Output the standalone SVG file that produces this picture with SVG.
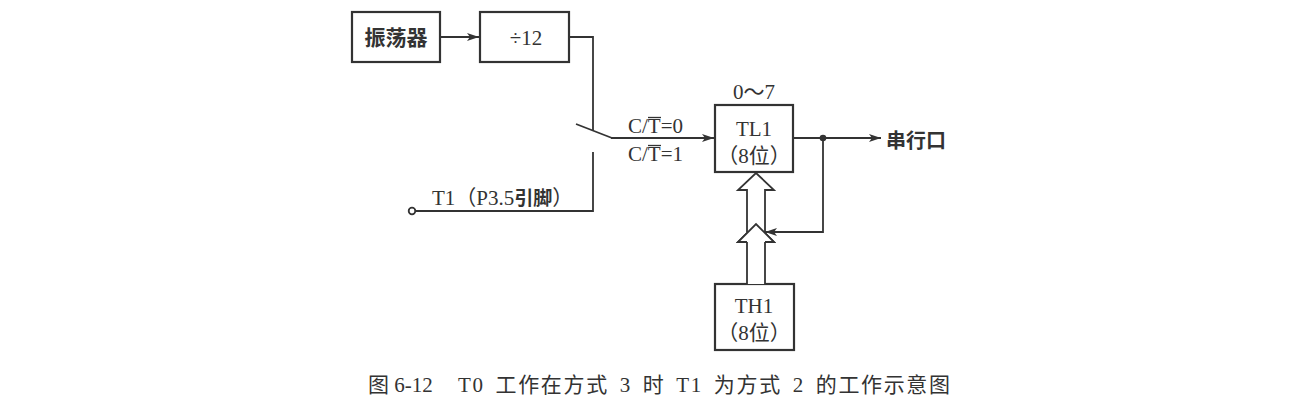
<svg xmlns="http://www.w3.org/2000/svg" width="1291" height="407" viewBox="0 0 1291 407">
<style>
.box{fill:#fff;stroke:#333;stroke-width:2.2}
.ln{fill:none;stroke:#333;stroke-width:1.8}
.ov{stroke:#333;stroke-width:1.3}
.t{font-family:"Liberation Serif","Noto Sans CJK SC",serif;fill:#333;font-size:21px}
.cjk{font-family:"Noto Sans CJK SC",sans-serif;fill:#333}
.hol{fill:#fff;stroke:#333;stroke-width:1.8;stroke-linejoin:miter}
</style>
<defs>
<marker id="ah" viewBox="0 0 12 8" refX="12" refY="4" markerWidth="12" markerHeight="8" markerUnits="userSpaceOnUse" orient="auto">
<path d="M0,0 L12,4 L0,8 L3,4 Z" fill="#333"/>
</marker>
</defs>
<rect width="1291" height="407" fill="#fff"/>
<g id="osc">
<rect class="box" x="352" y="12" width="88" height="50"/>
<text class="cjk" x="396" y="45" font-size="21" font-weight="bold" text-anchor="middle">振荡器</text>
</g>
<g id="div12">
<rect class="box" x="480" y="12" width="89" height="50"/>
<text class="t" x="526" y="45" font-size="22" text-anchor="middle">÷12</text>
</g>
<g id="tl1">
<rect class="box" x="715" y="105" width="78" height="67"/>
<text class="t" x="754" y="99" text-anchor="middle">0～7</text>
<text class="t" x="754" y="136" text-anchor="middle">TL1</text>
<text class="t" x="754" y="163" text-anchor="middle">（8位）</text>
</g>
<g id="th1">
<rect class="box" x="715" y="284" width="79" height="66"/>
<text class="t" x="754" y="313" text-anchor="middle">TH1</text>
<text class="t" x="754" y="340" text-anchor="middle">（8位）</text>
</g>
<g id="labels">
<text class="t" x="432" y="205">T1（P3.5<tspan class="cjk" font-weight="bold" font-size="19">引脚</tspan>）</text>
<text class="t" x="628" y="133">C/T=0</text>
<line class="ov" x1="648" y1="117.5" x2="661" y2="117.5"/>
<text class="t" x="628" y="161">C/T=1</text>
<line class="ov" x1="648" y1="145.5" x2="661" y2="145.5"/>
<text class="cjk" x="886" y="148" font-size="20" font-weight="bold">串行口</text>
<text class="t" x="368" y="392" font-size="21">图 6-12</text>
<text class="t" x="458" y="392" font-size="22" word-spacing="4" textLength="492" lengthAdjust="spacing">T0 工作在方式 3 时 T1 为方式 2 的工作示意图</text>
</g>
<g id="connectors">
<line class="ln" x1="440" y1="37" x2="479" y2="37" marker-end="url(#ah)"/>
<polyline class="ln" points="569,37 593,37 593,130"/>
<line class="ln" x1="576" y1="124" x2="612" y2="138"/>
<line class="ln" x1="611" y1="138" x2="714" y2="138" marker-end="url(#ah)"/>
<polyline class="ln" points="593,152 593,211 415,211"/>
<circle cx="412" cy="211" r="3.3" fill="#fff" stroke="#333" stroke-width="1.8"/>
<line class="ln" x1="793" y1="138" x2="881" y2="138" marker-end="url(#ah)"/>
<circle cx="823" cy="138" r="3.3" fill="#333"/>
<polyline class="ln" points="823,138 823,232 765,232" marker-end="url(#ah)"/>
<path class="hol" d="M747,284 L747,242 L738,242 L756,224 L774,242 L765,242 L765,284"/>
<path class="hol" d="M747,232 L747,190 L738,190 L756,173 L774,190 L765,190 L765,233"/>
<path d="M747,242 L738,242 L756,224 L774,242 L765,242" fill="#fff" stroke="#333" stroke-width="1.8"/>
</g>
</svg>
